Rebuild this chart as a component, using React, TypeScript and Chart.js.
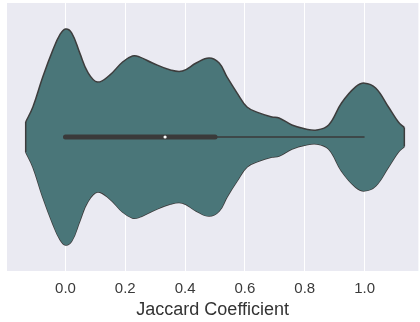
import React, { useEffect, useRef } from "react";
import { Chart, registerables } from "chart.js";

Chart.register(...registerables);

// Violin outline: x positions (Jaccard coefficient) and half-width density (category units)
const violinX = [-0.133, -0.109, -0.076, -0.042, -0.019, 0.0, 0.021, 0.048, 0.074, 0.107, 0.148, 0.191, 0.224, 0.247, 0.291, 0.351, 0.391, 0.437, 0.48, 0.514, 0.54, 0.574, 0.607, 0.647, 0.69, 0.714, 0.757, 0.803, 0.84, 0.88, 0.923, 0.97, 1.0, 1.037, 1.08, 1.113, 1.133];
const violinDensity = [0.056, 0.112, 0.224, 0.325, 0.381, 0.403, 0.388, 0.313, 0.243, 0.205, 0.231, 0.28, 0.302, 0.299, 0.276, 0.25, 0.246, 0.276, 0.295, 0.276, 0.224, 0.164, 0.112, 0.09, 0.075, 0.071, 0.045, 0.03, 0.026, 0.045, 0.127, 0.187, 0.201, 0.183, 0.112, 0.056, 0.035];

// Box statistics
const quartiles = [0.0, 0.5];
const whiskers = [0.0, 1.0];
const median = [0.333];

// Axis
const tickValues = [0.0, 0.2, 0.4, 0.6, 0.8, 1.0];
const xLabel = "Jaccard Coefficient";

const FILL = "#4a7679";
const EDGE = "#3d3d3d";
const BOX = "#3a3a3a";

const bgPlugin = {
  id: "bg",
  beforeDraw(chart: any) {
    const { ctx, chartArea } = chart;
    ctx.save();
    ctx.fillStyle = "#ffffff";
    ctx.fillRect(0, 0, chart.width, chart.height);
    ctx.fillStyle = "#eaeaf2";
    ctx.fillRect(chartArea.left, chartArea.top, chartArea.right - chartArea.left, chartArea.bottom - chartArea.top);
    ctx.restore();
  },
};

export default function App() {
  const ref = useRef<HTMLCanvasElement>(null);
  useEffect(() => {
    document.body.style.margin = "0";
    const upper = violinX.map((x, i) => ({ x, y: violinDensity[i] }));
    const lower = violinX.map((x, i) => ({ x, y: -violinDensity[i] }));
    const n = violinX.length - 1;
    const leftEdge = [
      { x: violinX[0], y: violinDensity[0] },
      { x: violinX[0], y: -violinDensity[0] },
    ];
    const rightEdge = [
      { x: violinX[n], y: violinDensity[n] },
      { x: violinX[n], y: -violinDensity[n] },
    ];
    const line = {
      showLine: true,
      pointRadius: 0,
      pointHoverRadius: 0,
    };
    const chart = new Chart(ref.current!, {
      type: "scatter",
      data: {
        datasets: [
          {
            ...line,
            data: [{ x: median[0], y: 0 }],
            showLine: false,
            pointRadius: 1.6,
            pointBackgroundColor: "#ffffff",
            pointBorderWidth: 0,
            order: 0,
          } as any,
          {
            ...line,
            data: quartiles.map((x) => ({ x, y: 0 })),
            borderColor: BOX,
            borderWidth: 5,
            borderCapStyle: "round",
            order: 1,
          },
          {
            ...line,
            data: whiskers.map((x) => ({ x, y: 0 })),
            borderColor: BOX,
            borderWidth: 1.5,
            order: 2,
          },
          {
            ...line,
            data: upper,
            borderColor: EDGE,
            borderWidth: 1.5,
            tension: 0.4,
            backgroundColor: FILL,
            fill: "+1",
            order: 5,
          },
          {
            ...line,
            data: lower,
            borderColor: EDGE,
            borderWidth: 1.5,
            tension: 0.4,
            order: 6,
          },
          { ...line, data: leftEdge, borderColor: EDGE, borderWidth: 1.5, order: 4 },
          { ...line, data: rightEdge, borderColor: EDGE, borderWidth: 1.5, order: 4 },
        ],
      },
      options: {
        responsive: false,
        animation: false,
        events: [],
        layout: { padding: { left: 7, right: 0, top: 3, bottom: 0 } },
        plugins: { legend: { display: false }, tooltip: { enabled: false } },
        scales: {
          x: {
            type: "linear",
            min: -0.1955,
            max: 1.18,
            afterBuildTicks: (scale: any) => {
              scale.ticks = tickValues.map((v) => ({ value: v }));
            },
            afterFit: (scale: any) => {
              scale.height = 51;
            },
            border: { display: false },
            grid: { color: "#ffffff", lineWidth: 1, drawTicks: false },
            ticks: {
              padding: 9,
              color: "#3a3a3a",
              font: { family: "'Liberation Sans', Arial, sans-serif", size: 15 },
              callback: (v: any) => Number(v).toFixed(1),
            },
            title: {
              display: true,
              text: xLabel,
              color: "#333333",
              padding: { top: 0, bottom: 1 },
              font: { family: "'Liberation Sans', Arial, sans-serif", size: 18 },
            },
          },
          y: {
            type: "linear",
            min: -0.5,
            max: 0.5,
            display: false,
          },
        },
      },
      plugins: [bgPlugin],
    });
    return () => chart.destroy();
  }, []);
  return (
    <div style={{ width: 420, height: 322 }}>
      <canvas ref={ref} width={420} height={322} style={{ display: "block" }} />
    </div>
  );
}
